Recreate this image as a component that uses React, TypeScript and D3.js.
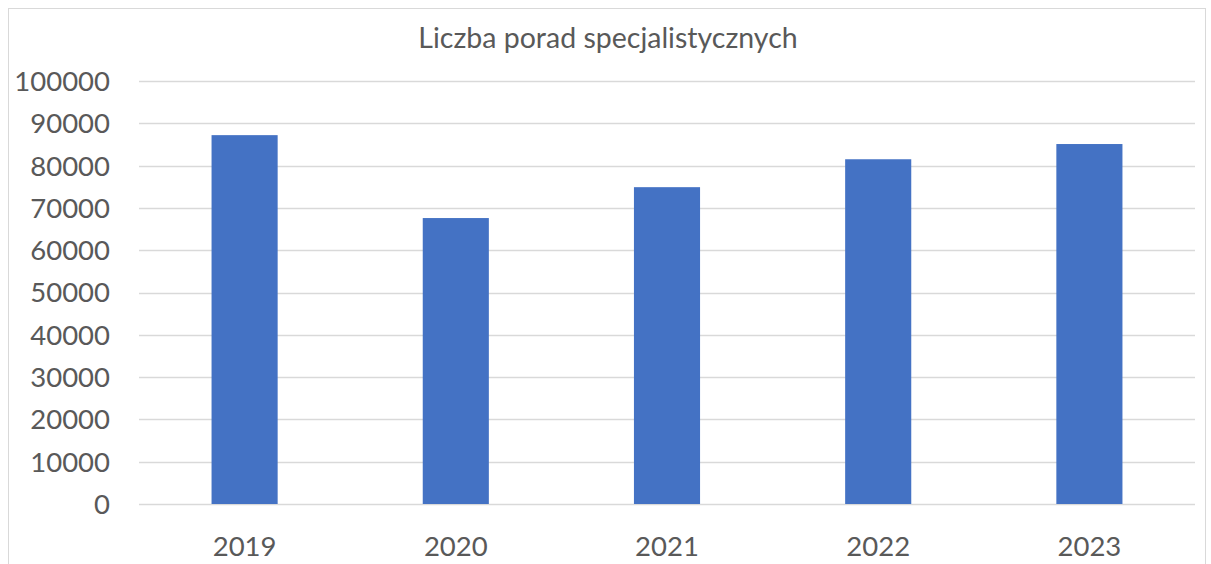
import * as d3 from "d3";
import { useEffect, useRef } from "react";

const years = ["2019", "2020", "2021", "2022", "2023"];
const values = [87200, 67600, 74900, 81500, 85100];
const yTicks = [0, 10000, 20000, 30000, 40000, 50000, 60000, 70000, 80000, 90000, 100000];
const title = "Liczba porad specjalistycznych";

export default function App() {
  const ref = useRef<SVGSVGElement>(null);

  useEffect(() => {
    const width = 1211;
    const height = 564;
    const margin = { top: 81, right: 16, bottom: 60, left: 139 };
    const font = "Lato, 'Open Sans', sans-serif";

    const svg = d3.select(ref.current);
    svg.selectAll("*").remove();

    svg
      .append("rect")
      .attr("x", 8.5)
      .attr("y", 8.5)
      .attr("width", 1197)
      .attr("height", 600)
      .attr("fill", "#fff")
      .attr("stroke", "#d9d9d9");

    const x = d3
      .scaleBand()
      .domain(years)
      .range([margin.left, width - margin.right])
      .paddingInner(0.687)
      .paddingOuter(0.3435);

    const y = d3
      .scaleLinear()
      .domain([0, 100000])
      .range([height - margin.bottom, margin.top]);

    // siatka
    svg
      .append("g")
      .selectAll("line")
      .data(yTicks)
      .join("line")
      .attr("x1", margin.left)
      .attr("x2", width - margin.right)
      .attr("y1", (d) => Math.round(y(d)) + 0.5)
      .attr("y2", (d) => Math.round(y(d)) + 0.5)
      .attr("stroke", "#d9d9d9")
      .attr("stroke-width", 1.3);

    svg
      .append("g")
      .selectAll("rect")
      .data(values)
      .join("rect")
      .attr("x", (_, i) => x(years[i])!)
      .attr("width", x.bandwidth())
      .attr("y", (d) => y(d))
      .attr("height", (d) => y(0) - y(d))
      .attr("fill", "#4472c4");

    svg
      .append("g")
      .selectAll("text")
      .data(yTicks)
      .join("text")
      .attr("x", 110)
      .attr("y", (d) => y(d))
      .attr("dy", "0.36em")
      .attr("text-anchor", "end")
      .attr("font-family", font)
      .attr("font-size", 27.5)
      .attr("fill", "#595959")
      .text((d) => String(d));

    svg
      .append("g")
      .selectAll("text")
      .data(years)
      .join("text")
      .attr("x", (d) => x(d)! + x.bandwidth() / 2)
      .attr("y", 556)
      .attr("text-anchor", "middle")
      .attr("font-family", font)
      .attr("font-size", 27.5)
      .attr("fill", "#595959")
      .text((d) => d);

    svg
      .append("text")
      .attr("x", 608)
      .attr("y", 48)
      .attr("text-anchor", "middle")
      .attr("font-family", font)
      .attr("font-size", 28.5)
      .attr("fill", "#595959")
      .text(title);
  });

  return (
    <svg
      ref={ref}
      width={1211}
      height={564}
      style={{ position: "absolute", left: 0, top: 0 }}
    />
  );
}
